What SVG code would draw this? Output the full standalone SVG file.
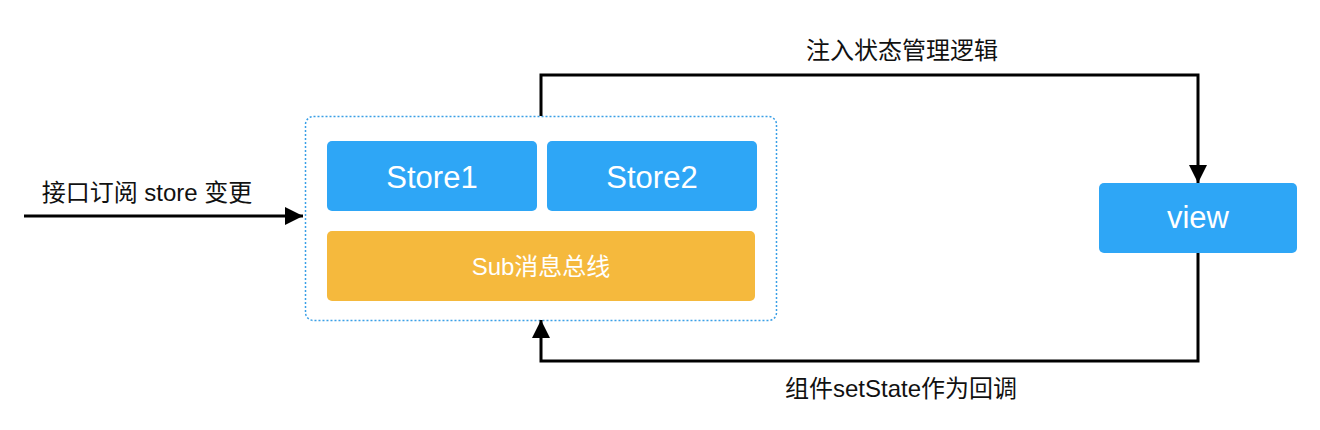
<svg xmlns="http://www.w3.org/2000/svg" width="1320" height="430" viewBox="0 0 1320 430">
<style>
.lbl{font-family:"Liberation Sans","Noto Sans CJK SC",sans-serif;font-size:24px;fill:#111;text-anchor:middle;dominant-baseline:central}
.box{fill:#2EA6F6}
.wt{font-family:"Liberation Sans","Noto Sans CJK SC",sans-serif;fill:#fff;text-anchor:middle;dominant-baseline:central}
.ln{fill:none;stroke:#000;stroke-width:3}
</style>
<defs>
<marker id="ah" viewBox="0 0 10 10" refX="10" refY="5" markerWidth="6" markerHeight="6" markerUnits="strokeWidth" orient="auto"><path d="M0,0 L10,5 L0,10 Z" fill="#000"/></marker>
</defs>
<rect x="305.5" y="116.5" width="471" height="204" rx="8" fill="none" stroke="#3A9FE6" stroke-width="1.5" stroke-dasharray="2 2"/>
<g id="store1"><rect class="box" x="327" y="141" width="210" height="70" rx="5"/><text class="wt" x="432" y="177" font-size="31">Store1</text></g>
<g id="store2"><rect class="box" x="547" y="141" width="210" height="70" rx="5"/><text class="wt" x="652" y="177" font-size="31">Store2</text></g>
<g id="sub"><rect x="327" y="231" width="428" height="70" rx="5" fill="#F5B93D"/><text class="wt" x="541" y="266" font-size="24">Sub消息总线</text></g>
<g id="view"><rect class="box" x="1099" y="183" width="198" height="70" rx="5"/><text class="wt" x="1198" y="217" font-size="31">view</text></g>
<g id="connectors">
<path class="ln" d="M24,216 H303" marker-end="url(#ah)"/>
<path class="ln" d="M541,116 V75 H1198 V183" marker-end="url(#ah)"/>
<path class="ln" d="M1198,253 V361 H541 V320" marker-end="url(#ah)"/>
</g>
<text class="lbl" x="147" y="192">接口订阅 store 变更</text>
<text class="lbl" x="902" y="50">注入状态管理逻辑</text>
<text class="lbl" x="901" y="388">组件setState作为回调</text>
</svg>
